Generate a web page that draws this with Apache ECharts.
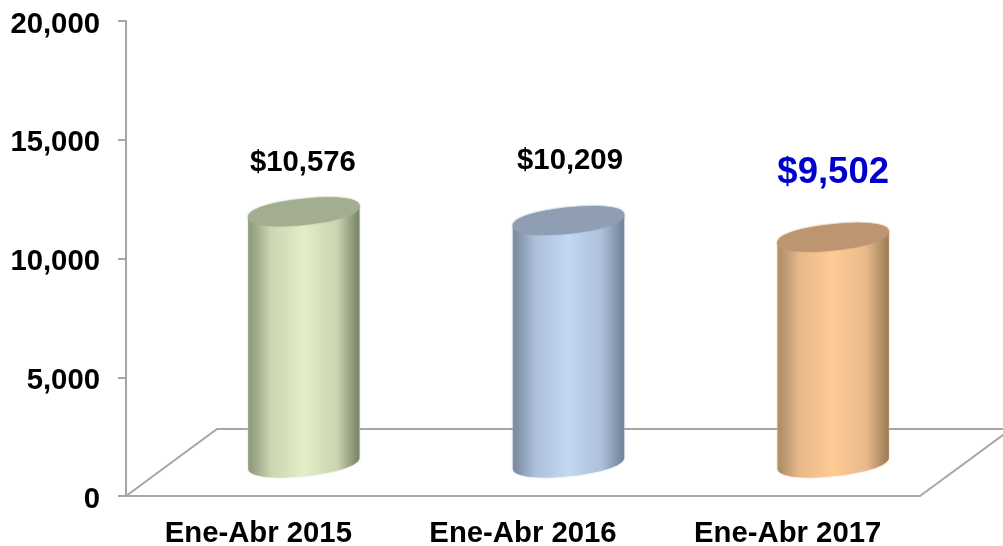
<!DOCTYPE html>
<html>
<head>
<meta charset="utf-8">
<style>
  html, body { margin: 0; padding: 0; background: #fff; }
  #chart { width: 1003px; height: 546px; }
</style>
<script src="https://cdn.jsdelivr.net/npm/echarts@6/dist/echarts.min.js"></script>
</head>
<body>
<div id="chart"></div>
<script>
var categories = ['Ene-Abr 2015', 'Ene-Abr 2016', 'Ene-Abr 2017']
var values = [10576, 10209, 9502]
var yTicks = [0, 5000, 10000, 15000, 20000]

// left edge, shoulder, centre, right edge, top cap
var bodyColors = [
  ['#939d81', '#c9d4b1', '#e4efc6', '#7f886c', '#a3ae90'],
  ['#7e8ea5', '#adbfd9', '#c4d8f3', '#76859b', '#8f9eb3'],
  ['#b3906c', '#e8b98a', '#ffcb95', '#a08059', '#bd9571']
]
var labelColors = ['#000000', '#000000', '#0000cc']
var labelSizes = [29.3, 29.3, 36.5]
var labelLift = [49, 60, 64]
var labelShift = [-1, 1.5, 0]

var fontName = '"Liberation Sans", Arial, sans-serif'
var lineColor = '#a6a6a6'
// the 3d floor is pushed back by this much
var depthX = 91
var depthY = 67

function renderFloor(params, api) {
  var cs = params.coordSys
  var bottom = cs.y + cs.height
  var style = { fill: null, stroke: lineColor, lineWidth: 2 }
  return {
    type: 'group',
    children: [
      {
        type: 'polyline',
        shape: { points: [[cs.x, bottom], [cs.x + depthX, bottom - depthY], [cs.x + cs.width + depthX, bottom - depthY]] },
        style: style
      },
      {
        type: 'line',
        shape: { x1: cs.x + cs.width, y1: bottom, x2: cs.x + cs.width + depthX, y2: bottom - depthY },
        style: style
      }
    ]
  }
}

// slightly squared ellipse, the caps in the picture are rounder at the ends than a true one
function ellipsePoints(cx, cy, a, b, tilt, from, to) {
  var pts = []
  for (var i = 0; i <= 60; i++) {
    var t = from + (to - from) * i / 60
    var cos = Math.cos(t)
    var sin = Math.sin(t)
    var ex = a * (cos < 0 ? -1 : 1) * Math.pow(Math.abs(cos), 0.92)
    var ey = b * (sin < 0 ? -1 : 1) * Math.pow(Math.abs(sin), 0.92)
    pts.push([cx + ex * Math.cos(tilt) - ey * Math.sin(tilt), cy + ex * Math.sin(tilt) + ey * Math.cos(tilt)])
  }
  return pts
}

function renderCylinder(params, api) {
  var i = params.dataIndex
  var top = api.coord([api.value(0), api.value(1)])
  var base = api.coord([api.value(0), 0])
  var cx = top[0] + 45.5
  var topY = top[1] - 33
  var baseY = base[1] - 33
  var a = 56
  var b = 13
  var tilt = -6 * Math.PI / 180
  var c = bodyColors[i]

  // lower half of the base, then straight up the side to the cap
  var pts = ellipsePoints(cx, baseY, a, b, tilt, 0, Math.PI)
  pts = pts.concat(ellipsePoints(cx, topY, a, b, tilt, Math.PI, 2 * Math.PI))

  return {
    type: 'group',
    children: [
      {
        type: 'polygon',
        shape: { points: pts },
        style: {
          fill: new echarts.graphic.LinearGradient(0, 0, 1, 0, [
            { offset: 0, color: c[0] },
            { offset: 0.03, color: c[0] },
            { offset: 0.2, color: c[1] },
            { offset: 0.5, color: c[2] },
            { offset: 0.8, color: c[1] },
            { offset: 0.98, color: c[3] },
            { offset: 1, color: c[3] }
          ]),
          shadowBlur: 2,
          shadowColor: c[1]
        }
      },
      {
        type: 'polygon',
        shape: { points: ellipsePoints(cx, topY, a, b, tilt, 0, 2 * Math.PI) },
        style: { fill: c[4], shadowBlur: 2, shadowColor: c[4] }
      },
      {
        type: 'text',
        style: {
          x: cx + labelShift[i],
          y: topY - labelLift[i],
          text: '$' + values[i].toLocaleString('en-US'),
          align: 'center',
          verticalAlign: 'middle',
          fill: labelColors[i],
          font: 'bold ' + labelSizes[i] + 'px ' + fontName
        }
      }
    ]
  }
}

var chart = echarts.init(document.getElementById('chart'), null, { renderer: 'canvas' })
chart.setOption({
  animation: false,
  backgroundColor: '#ffffff',
  grid: { left: 126, right: 83, top: 21, height: 475, outerBoundsMode: 'none' },
  xAxis: {
    type: 'category',
    data: categories,
    axisLine: { lineStyle: { color: lineColor, width: 2 } },
    axisTick: { length: 8, lineStyle: { color: lineColor, width: 2 } },
    axisLabel: { margin: 23, color: '#000', fontFamily: fontName, fontWeight: 'bold', fontSize: 29.3 }
  },
  yAxis: {
    type: 'value',
    min: yTicks[0],
    max: yTicks[yTicks.length - 1],
    interval: yTicks[1] - yTicks[0],
    axisLine: { show: true, lineStyle: { color: lineColor, width: 2 } },
    axisTick: { show: true, length: 8, lineStyle: { color: lineColor, width: 2 } },
    splitLine: { show: false },
    axisLabel: {
      margin: 26,
      verticalAlign: 'top',
      padding: [-11, 0, 0, 0],
      color: '#000',
      fontFamily: fontName,
      fontWeight: 'bold',
      fontSize: 29.3,
      formatter: function (v) { return v.toLocaleString('en-US') }
    }
  },
  series: [
    {
      type: 'custom',
      renderItem: renderFloor,
      data: [[0, 0]],
      clip: false,
      silent: true,
      z: 1
    },
    {
      type: 'custom',
      renderItem: renderCylinder,
      data: values.map(function (v, i) { return [i, v] }),
      encode: { x: 0, y: 1 },
      clip: false,
      silent: true,
      z: 2
    }
  ]
})
</script>
</body>
</html>
